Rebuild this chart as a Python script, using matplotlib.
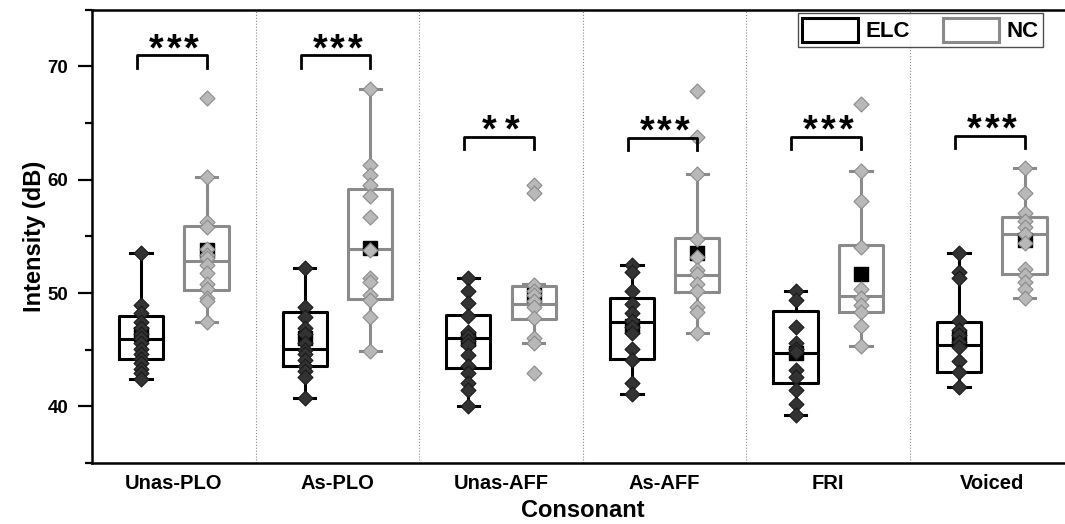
import numpy as np
import matplotlib.pyplot as plt
from matplotlib.patches import Patch
from matplotlib.ticker import MultipleLocator

plt.rcParams['font.family'] = ['Liberation Sans', 'DejaVu Sans']
plt.rcParams['font.weight'] = 'bold'

categories = ['Unas-PLO', 'As-PLO', 'Unas-AFF', 'As-AFF', 'FRI', 'Voiced']

# box statistics (dB)
elc_whislo = [42.4, 40.7, 40.0, 41.1, 39.2, 41.7]
elc_q1 = [44.2, 43.6, 43.4, 44.2, 42.1, 43.0]
elc_med = [45.9, 45.1, 46.0, 47.4, 44.7, 45.4]
elc_q3 = [48.0, 48.3, 48.1, 49.6, 48.4, 47.4]
elc_whishi = [53.5, 52.2, 51.3, 52.5, 50.2, 53.5]
elc_mean = [46.4, 46.0, 45.9, 47.1, 44.7, 46.0]

nc_whislo = [47.4, 44.9, 45.6, 46.5, 45.3, 49.6]
nc_q1 = [50.3, 49.5, 47.7, 50.1, 48.3, 51.7]
nc_med = [52.8, 53.9, 49.0, 51.6, 49.7, 55.2]
nc_q3 = [55.9, 59.2, 50.6, 54.9, 54.2, 56.7]
nc_whishi = [60.2, 68.0, 50.8, 60.5, 60.8, 61.0]
nc_mean = [53.8, 54.0, 49.8, 53.5, 51.7, 54.7]

# individual points
elc_pts = [
    [53.5, 48.9, 48.2, 47.4, 46.9, 46.4, 46.0, 45.6, 45.1, 44.6, 44.2, 43.8, 43.3, 42.9, 42.4],
    [52.2, 48.8, 47.9, 46.9, 46.4, 45.6, 45.0, 44.6, 44.1, 43.6, 43.1, 42.6, 40.7],
    [51.3, 50.2, 49.1, 48.0, 46.6, 46.2, 45.8, 45.4, 44.5, 43.6, 42.9, 42.1, 41.4, 40.0],
    [52.5, 51.9, 50.2, 49.0, 48.2, 47.5, 47.0, 46.5, 45.1, 44.1, 42.1, 41.1],
    [50.2, 49.4, 47.0, 45.6, 45.1, 44.8, 43.2, 42.6, 41.4, 40.2, 39.2],
    [53.5, 51.9, 51.3, 47.5, 46.7, 46.3, 45.7, 45.2, 44.0, 43.0, 41.7],
]
nc_pts = [
    [67.2, 60.2, 56.3, 55.8, 53.9, 53.4, 53.1, 52.5, 51.8, 50.8, 50.4, 49.6, 49.3, 47.4],
    [68.0, 61.3, 60.4, 59.5, 58.6, 56.7, 53.8, 51.3, 51.0, 49.8, 49.4, 47.9, 44.9],
    [59.5, 58.8, 50.7, 50.2, 49.8, 49.3, 48.8, 47.8, 46.0, 45.6, 42.9],
    [67.8, 63.8, 60.5, 54.8, 53.2, 52.0, 51.7, 50.8, 50.2, 48.8, 48.3, 46.5],
    [66.7, 60.8, 58.1, 54.1, 50.4, 49.6, 48.9, 48.3, 47.1, 45.3],
    [61.0, 58.8, 57.1, 56.4, 55.8, 55.2, 54.4, 52.1, 51.6, 51.0, 50.4, 49.6],
]

sig_y = [71.0, 71.0, 63.8, 63.7, 63.8, 63.9]
sig_txt = ['***', '***', '* *', '***', '***', '***']

fig = plt.figure(figsize=(10.65, 5.24), dpi=100)
ax = fig.add_axes([0.0864, 0.1164, 0.9217, 0.865])

x = np.arange(1, len(categories) + 1)
off = 0.2


def make_stats(lo, q1, med, q3, hi, mn):
    return [dict(whislo=lo[i], q1=q1[i], med=med[i], q3=q3[i], whishi=hi[i],
                 mean=mn[i], fliers=[]) for i in range(len(lo))]


for stats, pos, col in [(make_stats(elc_whislo, elc_q1, elc_med, elc_q3, elc_whishi, elc_mean), x - off, 'black'),
                        (make_stats(nc_whislo, nc_q1, nc_med, nc_q3, nc_whishi, nc_mean), x + off, '#8a8a8a')]:
    ax.bxp(stats, positions=pos, widths=0.27, capwidths=0.13, showfliers=False,
           boxprops=dict(color=col, linewidth=2.2),
           medianprops=dict(color=col, linewidth=2.2),
           whiskerprops=dict(color=col, linewidth=2.2),
           capprops=dict(color=col, linewidth=2.2), manage_ticks=False)

ax.scatter(x - off, elc_mean, marker='s', s=90, color='black', zorder=3)
ax.scatter(x + off, nc_mean, marker='s', s=90, color='black', zorder=3)

for i in range(len(categories)):
    ax.scatter(np.full(len(elc_pts[i]), x[i] - off), elc_pts[i], marker='D', s=58,
               facecolor='#333333', edgecolor='#1a1a1a', linewidth=0.8, zorder=4)
    ax.scatter(np.full(len(nc_pts[i]), x[i] + off), nc_pts[i], marker='D', s=58,
               facecolor='#b8b8b8', edgecolor='#8a8a8a', linewidth=0.8, zorder=4)
    # significance brackets
    y0 = sig_y[i]
    ax.plot([x[i] - off - 0.025, x[i] - off - 0.025, x[i] + off, x[i] + off],
            [y0 - 1.1, y0, y0, y0 - 1.1], color='black', lw=2.0, zorder=5)
    # stars drawn one by one so the spacing matches
    n = sig_txt[i].count('*')
    step = 0.14 if ' ' in sig_txt[i] else 0.108
    for k in range(n):
        ax.text(x[i] + (k - (n - 1) / 2) * step, y0 - 0.45, '*', ha='center',
                va='baseline', fontsize=27, fontweight='bold')

for b in np.arange(1.5, len(categories), 1.0):
    ax.axvline(b, color='#888888', lw=0.8, ls=':', zorder=0)

ax.set_xlim(0.5, 6.5)
ax.set_ylim(35, 75)
ax.set_xticks(x)
ax.set_xticklabels(categories, fontsize=14.5, fontweight='bold')
ax.set_yticks([40, 50, 60, 70])
ax.yaxis.set_minor_locator(MultipleLocator(5))
ax.tick_params(axis='x', length=0, pad=8)
ax.tick_params(axis='y', which='major', length=10, width=1.6, labelsize=13.5, pad=7)
ax.tick_params(axis='y', which='minor', length=5, width=1.6)
for lab in ax.get_yticklabels():
    lab.set_fontweight('bold')
for s in ax.spines.values():
    s.set_linewidth(1.8)

ax.set_xlabel('Consonant', fontsize=17, fontweight='bold', labelpad=4)
ax.set_ylabel('Intensity (dB)', fontsize=17, fontweight='bold', labelpad=1)

handles = [Patch(facecolor='white', edgecolor='black', linewidth=2.2),
           Patch(facecolor='white', edgecolor='#8a8a8a', linewidth=2.2)]
leg = ax.legend(handles, ['ELC', 'NC'], ncol=2, loc='upper right',
                bbox_to_anchor=(0.969, 0.992), borderaxespad=0, fancybox=False,
                handlelength=2.5, handleheight=1.3, handletextpad=0.35,
                columnspacing=1.5, borderpad=0.2,
                prop={'size': 16, 'weight': 'bold'})
leg.get_frame().set_edgecolor('#222222')
leg.get_frame().set_linewidth(1.0)

fig.savefig('out.png', dpi=100)
